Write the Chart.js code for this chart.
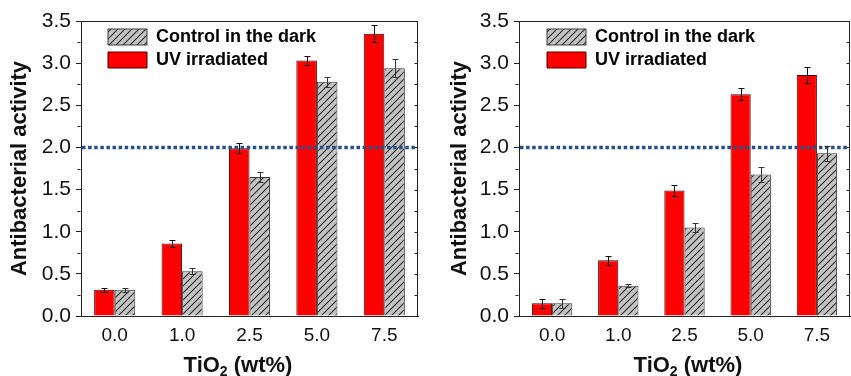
<!DOCTYPE html>
<html><head><meta charset="utf-8">
<script src="https://cdn.jsdelivr.net/npm/chart.js@4.4.1/dist/chart.umd.min.js"></script>
<style>
html,body{margin:0;padding:0;background:#fff;width:851px;height:376px;overflow:hidden;}
.wrap{position:absolute;top:0;height:376px;}
canvas{display:block;}
</style></head><body>
<div class="wrap" style="left:0;width:425px"><canvas id="c1" width="425" height="376"></canvas></div>
<div class="wrap" style="left:425px;width:426px"><canvas id="c2" width="426" height="376"></canvas></div>
<script>
// ---- data ----
const categories = ['0.0', '1.0', '2.5', '5.0', '7.5'];
const seriesNames = ['UV irradiated', 'Control in the dark'];
const leftUV = [0.31, 0.86, 1.99, 3.03, 3.35];
const leftUVErr = [0.02, 0.04, 0.06, 0.05, 0.10];
const leftDark = [0.31, 0.53, 1.65, 2.78, 2.94];
const leftDarkErr = [0.02, 0.035, 0.06, 0.06, 0.11];
const rightUV = [0.15, 0.66, 1.49, 2.63, 2.86];
const rightUVErr = [0.05, 0.055, 0.07, 0.07, 0.10];
const rightDark = [0.15, 0.36, 1.05, 1.68, 1.93];
const rightDarkErr = [0.05, 0.02, 0.055, 0.09, 0.09];
const threshold = 2.0;
const yMin = 0, yMax = 3.5, yStep = 0.5, yMinorStep = 0.25;
const xTitleParts = ['TiO', '2', ' (wt%)'];
const yTitle = 'Antibacterial activity';

Chart.defaults.font.family = "'Liberation Sans', Arial, sans-serif";

function hatch(ctx) {
  const s = 7;
  const c = document.createElement('canvas');
  c.width = s; c.height = s;
  const g = c.getContext('2d');
  g.fillStyle = '#c3c3c3';
  g.fillRect(0, 0, s, s);
  g.strokeStyle = '#2a2a2a';
  g.lineWidth = 1.1;
  g.beginPath();
  for (let k = -1; k <= 1; k++) {
    g.moveTo(k * s - 1, s + 1);
    g.lineTo(k * s + s + 1, -1);
  }
  g.stroke();
  return ctx.createPattern(c, 'repeat');
}

const decor = {
  id: 'decor',
  afterLayout(chart, args, o) {
    const ca = chart.chartArea, lg = chart.legend;
    if (lg) {
      lg.left = ca.left + o.legendDx;
      lg.top = ca.top + o.legendDy;
      lg.right = ca.right;
      lg.bottom = ca.bottom;
    }
  },
  afterDatasetsDraw(chart, args, o) {
    const ctx = chart.ctx, ca = chart.chartArea, ys = chart.scales.y;
    ctx.save();
    // frame (top and right) + minor ticks
    ctx.strokeStyle = '#222';
    ctx.lineWidth = 1;
    ctx.beginPath();
    const ty = Math.round(ca.top) + 0.5, rx = Math.round(ca.right) - 0.5, lx = Math.round(ca.left) - 0.5;
    ctx.moveTo(ca.left, ty); ctx.lineTo(ca.right, ty);
    ctx.moveTo(rx, ca.top); ctx.lineTo(rx, ca.bottom);
    const n = Math.round((yMax - yMin) / yMinorStep);
    for (let i = 0; i <= n; i++) {
      const v = yMin + i * yMinorStep;
      const py = Math.round(ys.getPixelForValue(v)) + 0.5;
      ctx.moveTo(rx, py); ctx.lineTo(rx - 3, py);
      if (i % 2 === 1) { ctx.moveTo(lx, py); ctx.lineTo(lx - 3, py); }
    }
    ctx.stroke();
    // threshold dotted line
    const tyv = ys.getPixelForValue(threshold);
    ctx.strokeStyle = '#27508a';
    ctx.lineWidth = 3.5;
    ctx.setLineDash([3.5, 2.6]);
    ctx.beginPath();
    ctx.moveTo(ca.left + 1, tyv); ctx.lineTo(ca.right, tyv);
    ctx.stroke();
    ctx.setLineDash([]);
    // error bars
    ctx.lineWidth = 1;
    chart.data.datasets.forEach((ds, i) => {
      const meta = chart.getDatasetMeta(i);
      ctx.strokeStyle = ds.errColor;
      meta.data.forEach((el, j) => {
        const v = ds.data[j], e = ds.errors[j];
        const x = Math.round(el.x) + 0.5;
        const y1 = Math.round(ys.getPixelForValue(v + e)) + 0.5;
        const y2 = Math.round(ys.getPixelForValue(v - e)) + 0.5;
        ctx.beginPath();
        ctx.moveTo(x, y1); ctx.lineTo(x, y2);
        ctx.moveTo(x - 3, y1); ctx.lineTo(x + 3, y1);
        ctx.moveTo(x - 3, y2); ctx.lineTo(x + 3, y2);
        ctx.stroke();
      });
    });
    ctx.restore();
  },
  afterDraw(chart, args, o) {
    const ctx = chart.ctx;
    ctx.save();
    ctx.fillStyle = '#111';
    ctx.textBaseline = 'alphabetic';
    const big = "bold 22px 'Liberation Sans', Arial, sans-serif";
    const small = "bold 14px 'Liberation Sans', Arial, sans-serif";
    ctx.font = big; const w0 = ctx.measureText(xTitleParts[0]).width;
    const w2 = ctx.measureText(xTitleParts[2]).width;
    ctx.font = small; const w1 = ctx.measureText(xTitleParts[1]).width;
    let x = o.xTitleX - (w0 + w1 + w2) / 2;
    const base = 372;
    ctx.font = big; ctx.fillText(xTitleParts[0], x, base); x += w0;
    ctx.font = small; ctx.fillText(xTitleParts[1], x, base + 4); x += w1;
    ctx.font = big; ctx.fillText(xTitleParts[2], x, base);
    ctx.restore();
  }
};

function makeChart(id, uv, uvErr, dark, darkErr, L) {
  const canvas = document.getElementById(id);
  const pat = hatch(canvas.getContext('2d'));
  return new Chart(canvas, {
    type: 'bar',
    data: {
      labels: categories,
      datasets: [
        { label: seriesNames[0], data: uv, errors: uvErr, errColor: '#111',
          backgroundColor: '#ff0000', borderColor: '#4a0000', borderWidth: 1 },
        { label: seriesNames[1], data: dark, errors: darkErr, errColor: '#333',
          backgroundColor: pat, borderColor: '#3a3a3a', borderWidth: 1 }
      ]
    },
    options: {
      responsive: false,
      animation: false,
      devicePixelRatio: 1,
      datasets: { bar: { categoryPercentage: 0.61, barPercentage: 1.0 } },
      layout: { padding: { left: 0, right: L.padRight, top: 21, bottom: 0 } },
      scales: {
        x: {
          grid: { display: false, drawTicks: false },
          border: { display: true, color: '#222', width: 1 },
          ticks: { font: { size: 19 }, color: '#111', padding: 8 },
          afterFit(s) { s.height = 60; }
        },
        y: {
          min: yMin, max: yMax,
          ticks: { stepSize: yStep, font: { size: 21 }, color: '#111', padding: 5,
                   callback: v => Number(v).toFixed(1) },
          grid: { drawOnChartArea: false, tickLength: 5, color: '#222' },
          border: { display: true, color: '#222', width: 1 },
          title: { display: true, text: yTitle, color: '#111',
                   font: { size: 22, weight: 'bold' }, padding: { top: L.yTitlePad, bottom: 0 } },
          afterFit(s) { s.width = L.axisLeft; }
        }
      },
      plugins: {
        legend: {
          position: 'chartArea', align: 'start', reverse: true,
          labels: { boxWidth: 39, boxHeight: 16, padding: 5, color: '#000',
                    font: { size: 18, weight: 'bold' } }
        },
        tooltip: { enabled: false },
        decor: { legendDx: L.legendDx, legendDy: 2, xTitleX: L.xTitleX }
      }
    },
    plugins: [decor]
  });
}

makeChart('c1', leftUV, leftUVErr, leftDark, leftDarkErr,
  { axisLeft: 81, padRight: 7, yTitlePad: 7, legendDx: 22, xTitleX: 238 });
makeChart('c2', rightUV, rightUVErr, rightDark, rightDarkErr,
  { axisLeft: 94, padRight: 1, yTitlePad: 22, legendDx: 23, xTitleX: 263 });
</script>
</body></html>
